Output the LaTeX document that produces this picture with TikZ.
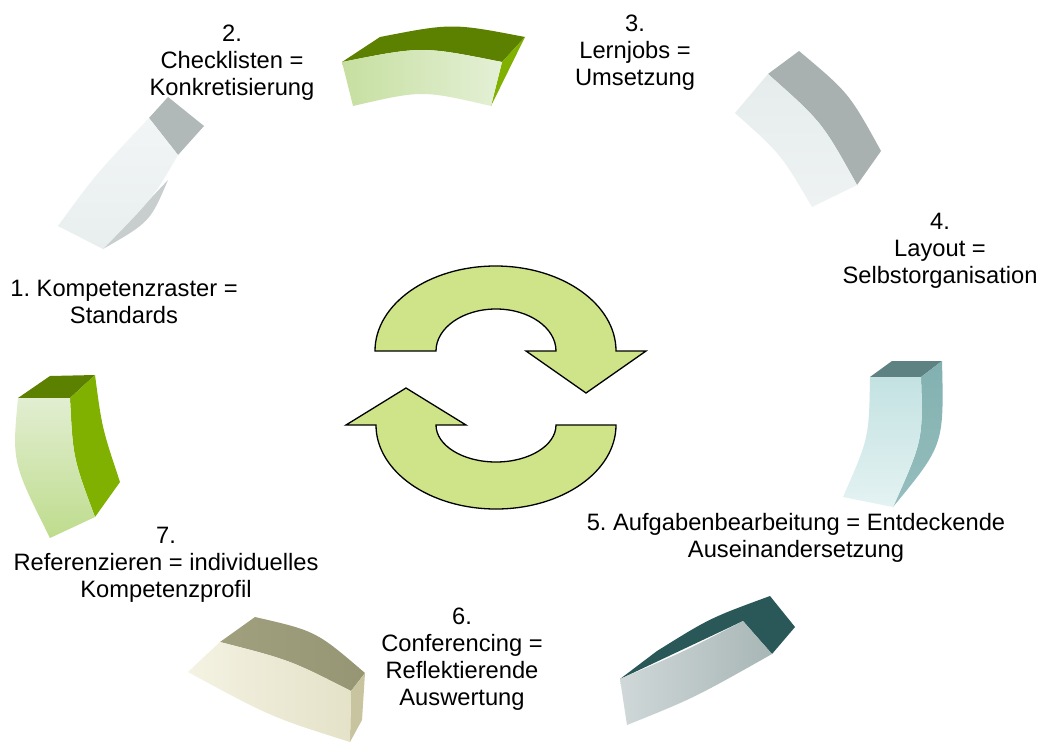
\documentclass[tikz,border=0pt]{standalone}
\usepackage{fontspec}
\setmainfont{Liberation Sans}
\frenchspacing
\begin{document}
\begin{tikzpicture}[x=1pt,y=-1pt,
  lbl/.style={align=center,anchor=north,inner sep=0pt,font=\fontsize{23.7}{26.8}\selectfont},
  cyc/.style={fill=arrowgreen,draw=black,line width=1.3pt,line join=miter}]
\definecolor{arrowgreen}{HTML}{CFE489}
\definecolor{gDark}{HTML}{5C8000}
\definecolor{gSide}{HTML}{80B000}
\useasboundingbox (0,0) rectangle (1040,744);
\fill[white] (0,0) rectangle (1040,744);

% ---- segment 1 (upper left, grey) ----
\fill[color={rgb,255:red,176;green,184;blue,184}] (149,118) -- (168,97) -- (204,126) -- (178,155) -- cycle;
\fill[color={rgb,255:red,200;green,206;blue,206}] (168,180) .. controls (150,222) .. (103,249) -- cycle;
\shade[top color={rgb,255:red,242;green,245;blue,245}, bottom color={rgb,255:red,232;green,238;blue,238}]
  (149,118) -- (178,155) .. controls (153,198) .. (103,249) -- (58,226) .. controls (96,174) .. (149,118) -- cycle;

% ---- segment 2 (top, green) ----
\fill[gDark] (342,62) .. controls (422,46) .. (502,62) -- (525,37) .. controls (452,23) .. (380,37) -- cycle;
\fill[gSide] (502,62) -- (525,37) -- (491,106) -- cycle;
\shade[left color={rgb,255:red,198;green,223;blue,160}, right color={rgb,255:red,228;green,240;blue,214}]
  (342,62) .. controls (422,46) .. (502,62) -- (491,106) .. controls (422,90) .. (353,106) -- cycle;

% ---- segment 3 (upper right, grey) ----
\fill[color={rgb,255:red,168;green,176;blue,176}] (768,74) -- (799,51) .. controls (849,93) .. (881,151) -- (857,185) .. controls (822,122) .. (768,74) -- cycle;
\shade[top color={rgb,255:red,230;green,236;blue,236}, bottom color={rgb,255:red,238;green,242;blue,242}]
  (735,113) -- (768,74) .. controls (822,122) .. (857,185) -- (812,207) .. controls (781,154) .. (735,113) -- cycle;

% ---- segment 4 (right, teal) ----
\fill[color={rgb,255:red,94;green,130;blue,130}] (870,377) -- (892,361) -- (942,361) -- (921,377) -- cycle;
\shade[top color={rgb,255:red,130;green,176;blue,176}, bottom color={rgb,255:red,150;green,190;blue,190}]
  (921,377) -- (942,361) .. controls (944,445) .. (893,507) .. controls (923,440) .. (921,377) -- cycle;
\shade[top color={rgb,255:red,196;green,226;blue,226}, bottom color={rgb,255:red,228;green,242;blue,242}]
  (870,377) -- (921,377) .. controls (923,440) .. (893,507) -- (843,497) .. controls (869,438) .. (870,377) -- cycle;

% ---- segment 5 (lower right, dark teal) ----
\fill[color={rgb,255:red,42;green,88;blue,88}] (620,679) -- (657,651) .. controls (710,618) .. (770,596) -- (795,627) -- (772,654) -- (743,621) -- cycle;
\shade[left color={rgb,255:red,208;green,216;blue,216}, right color={rgb,255:red,168;green,182;blue,182}]
  (620,679) .. controls (683,652) .. (743,621) -- (772,654) .. controls (694,698) .. (627,725) -- cycle;

% ---- segment 6 (bottom left, olive) ----
\shade[left color={rgb,255:red,160;green,160;blue,126}, right color={rgb,255:red,150;green,150;blue,116}]
  (220,642) -- (255,617) .. controls (316,631) .. (365,673) -- (351,691) .. controls (290,660) .. (220,642) -- cycle;
\fill[color={rgb,255:red,200;green,196;blue,160}] (351,691) -- (365,673) -- (362,720) -- (350,742) -- cycle;
\shade[left color={rgb,255:red,244;green,242;blue,226}, right color={rgb,255:red,228;green,226;blue,200}]
  (220,642) .. controls (290,660) .. (351,691) -- (350,742) .. controls (271,717) .. (188,672) -- cycle;

% ---- segment 7 (left, green) ----
\fill[gDark] (18,398) -- (50,376) -- (95,375) -- (70,398) -- cycle;
\fill[gSide] (70,398) -- (95,375) .. controls (102,428) .. (120,482) -- (95,517) .. controls (73,458) .. (70,398) -- cycle;
\shade[top color={rgb,255:red,226;green,238;blue,210}, bottom color={rgb,255:red,190;green,220;blue,140}]
  (18,398) -- (70,398) .. controls (73,458) .. (95,517) -- (50,538) .. controls (12,462) .. (18,398) -- cycle;

% ---- central cycle arrows ----
\draw[cyc] (375,351) arc[start angle=180,end angle=360,x radius=120.5,y radius=85]
  -- (646,351) -- (586,393) -- (526,351) -- (556,351)
  arc[start angle=360,end angle=180,x radius=60,y radius=42] -- cycle;
\draw[cyc] (616,425) arc[start angle=0,end angle=180,x radius=120,y radius=84]
  -- (346,425) -- (406,388) -- (466,425) -- (436,425)
  arc[start angle=180,end angle=0,x radius=60,y radius=37] -- cycle;

% ---- labels ----
\node[lbl] (l1) at (124,280) {1. Kompetenzraster =\\Standards};
\node[lbl] (l2) at (232,25) {2.\\Checklisten =\\Konkretisierung};
\node[lbl] (l3) at (635,15) {3.\\Lernjobs =\\Umsetzung};
\node[lbl] (l4) at (940,213) {4.\\Layout =\\Selbstorganisation};
\node[lbl] (l5) at (796,513) {5. Aufgabenbearbeitung = Entdeckende\\Auseinandersetzung};
\node[lbl] (l6) at (462,608) {6.\\Conferencing =\\Reflektierende\\Auswertung};
\node[lbl] (l7) at (166,527) {7.\\Referenzieren = individuelles\\Kompetenzprofil};
\end{tikzpicture}
\end{document}
